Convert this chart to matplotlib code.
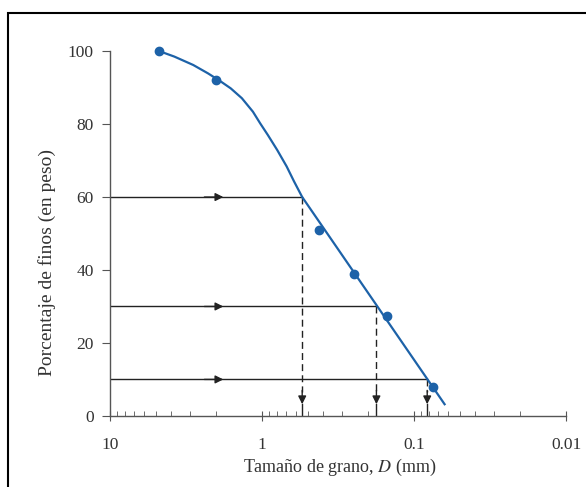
import numpy as np
import matplotlib.pyplot as plt
from matplotlib.patches import Rectangle
from matplotlib.ticker import LogLocator, NullFormatter

# sieve data
diam = [4.75, 2.0, 0.425, 0.25, 0.15, 0.075]
finos = [100, 92, 51, 39, 27.5, 8]

# smooth curve drawn through the points
curve_d = [4.75, 3.78, 2.84, 2.27, 1.89, 1.61, 1.36, 1.15, 1.03, 0.917, 0.796,
           0.69, 0.617, 0.545, 0.063]
curve_p = [100, 98.5, 96.2, 93.9, 91.8, 89.8, 87.1, 83.4, 80.2, 77.0, 72.9,
           68.4, 64.3, 60, 3.2]

# characteristic sizes D60, D30, D10
levels = [60, 30, 10]
d_levels = [0.545, 0.177, 0.082]

blue = '#1d62a8'
grey = '#555555'
txt = '#333333'

plt.rcParams['font.family'] = ['Liberation Serif', 'DejaVu Serif']
plt.rcParams['mathtext.fontset'] = 'stix'

fig = plt.figure(figsize=(5.86, 4.87), dpi=100)
ax = fig.add_axes([0.188, 0.146, 0.778, 0.749])

# frame around the figure
fig.patches.append(Rectangle((8 / 586, -0.1), 1.2, 1.0 - 13 / 487 + 0.1,
                             transform=fig.transFigure, fill=False,
                             edgecolor='black', linewidth=1.5))

for lev, dl in zip(levels, d_levels):
    ax.plot([10, dl], [lev, lev], color='#222222', lw=1.0)
    ax.annotate('', xy=(1.8, lev), xytext=(2.4, lev),
                arrowprops=dict(arrowstyle='-|>', color='#222222', lw=1.0,
                                mutation_scale=12, shrinkA=0, shrinkB=0))
    ax.plot([dl, dl], [lev, 6.5], color='#222222', lw=1.0, ls=(0, (5, 3)))
    ax.plot([dl, dl], [3.2, 0], color='#222222', lw=1.0)
    ax.annotate('', xy=(dl, 3.2), xytext=(dl, 7.0),
                arrowprops=dict(arrowstyle='-|>', color='#222222', lw=1.0,
                                mutation_scale=12, shrinkA=0, shrinkB=0))

ax.plot(curve_d, curve_p, color=blue, lw=1.6, clip_on=False, zorder=3,
        solid_joinstyle='round')
ax.plot(diam, finos, 'o', color=blue, ms=6, clip_on=False, zorder=4)

ax.set_xscale('log')
ax.set_xlim(10, 0.01)
ax.set_ylim(0, 100)
ax.set_xticks([10, 1, 0.1, 0.01])
ax.set_xticklabels(['10', '1', '0.1', '0.01'])
ax.xaxis.set_minor_locator(LogLocator(base=10, subs=np.arange(2, 10)))
ax.xaxis.set_minor_formatter(NullFormatter())
ax.set_yticks([0, 20, 40, 60, 80, 100])

for s in ['top', 'right']:
    ax.spines[s].set_visible(False)
for s in ['left', 'bottom']:
    ax.spines[s].set_color(grey)
    ax.spines[s].set_linewidth(1.0)

ax.tick_params(axis='x', which='major', direction='inout', length=7, color=grey,
               labelsize=12.5, labelcolor=txt, pad=12)
ax.tick_params(axis='x', which='minor', direction='in', length=3.5, color=grey)
ax.tick_params(axis='y', direction='out', length=6, color=grey,
               labelsize=12.5, labelcolor=txt, pad=6)

ax.set_xlabel('Tamaño de grano, $D$ (mm)', fontsize=13, color=txt)
ax.set_ylabel('Porcentaje de finos (en peso)', fontsize=14, color=txt)
ax.xaxis.set_label_coords(0.504, -0.113)
ax.yaxis.set_label_coords(-0.118, 0.42)

fig.savefig('out.png', dpi=100)
